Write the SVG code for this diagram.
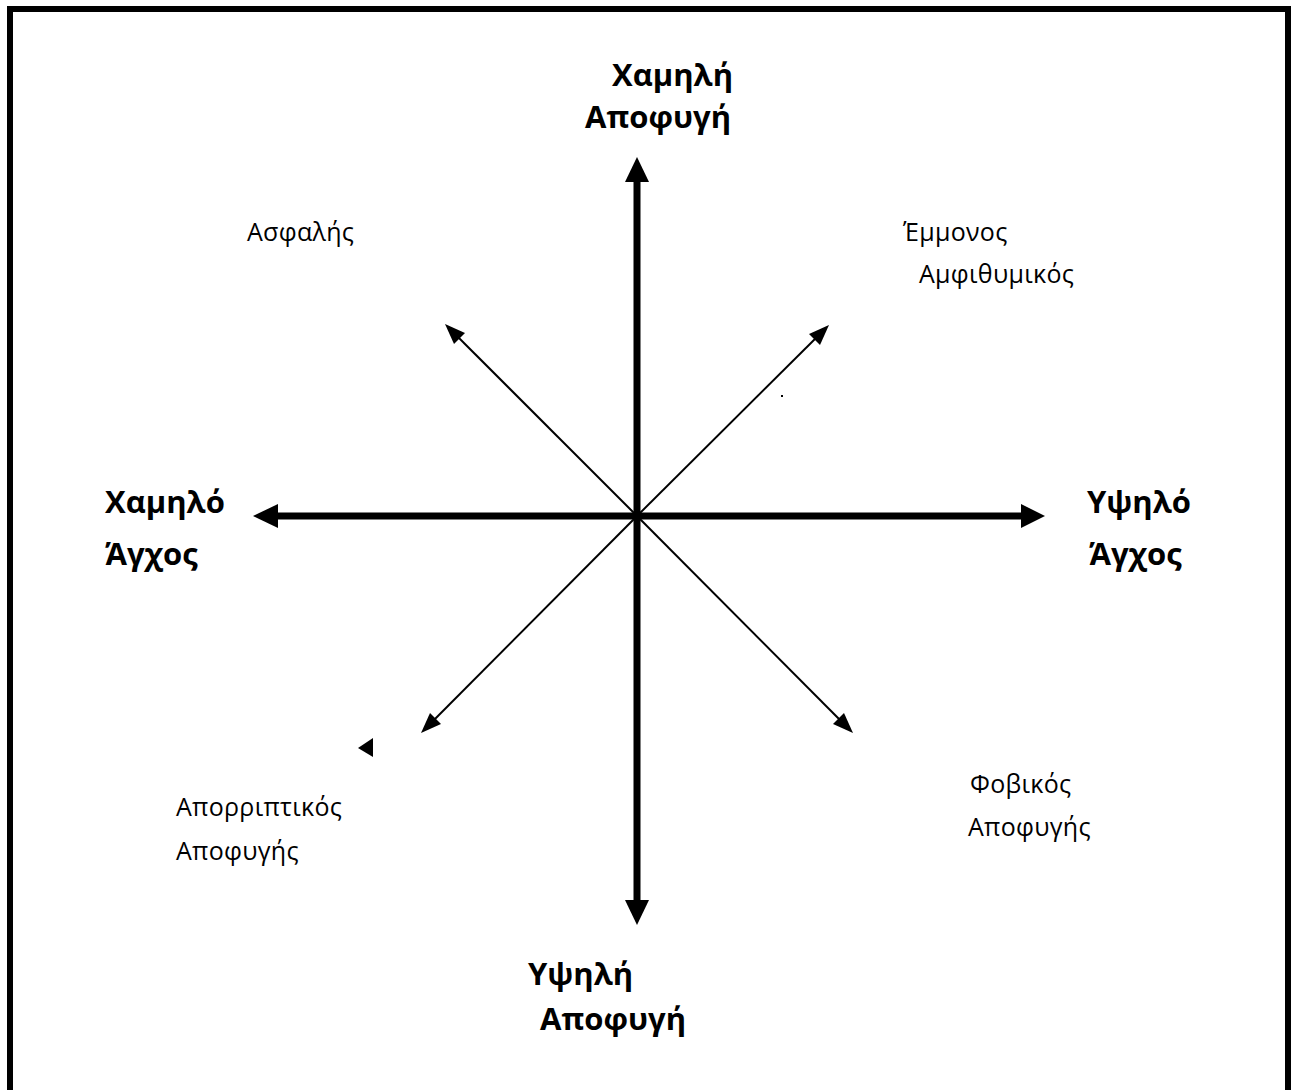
<svg xmlns="http://www.w3.org/2000/svg" width="1296" height="1090" viewBox="0 0 1296 1090">
<style>
.b{font-family:"Open Sans","Noto Sans","DejaVu Sans",sans-serif;font-weight:bold;font-size:31px;fill:#000}
.r{font-family:"Open Sans","Noto Sans","DejaVu Sans",sans-serif;font-size:25px;letter-spacing:0.3px;fill:#000}
.axis{stroke:#000;stroke-width:7;fill:none}
.diag{stroke:#000;stroke-width:2;fill:none}
</style>
<rect x="0" y="0" width="1296" height="1090" fill="#fff"/>
<path d="M10,1095 V9 H1288 V1095" fill="none" stroke="#000" stroke-width="6"/>
<g id="connectors">
<line class="axis" x1="637" y1="181" x2="637" y2="901"/>
<path d="M637,157 L649,182 L625,182 Z"/>
<path d="M637,925 L649,900 L625,900 Z"/>
<line class="axis" x1="277" y1="516" x2="1022" y2="516"/>
<path d="M253,516 L278,504 L278,528 Z"/>
<path d="M1045,516 L1021,504 L1021,528 Z"/>
<g>
<line class="diag" x1="637" y1="516" x2="454" y2="333"/>
<path d="M445,324 L465,333 L454,344 Z"/>
<line class="diag" x1="637" y1="516" x2="820" y2="334"/>
<path d="M829,325 L809,334 L820,345 Z"/>
<line class="diag" x1="637" y1="516" x2="844" y2="724"/>
<path d="M853,733 L844,713 L833,724 Z"/>
<line class="diag" x1="637" y1="516" x2="430" y2="724"/>
<path d="M421,733 L441,724 L430,713 Z"/>
<path d="M358,748 L373,738 L373,757 Z"/>
<rect x="781" y="395" width="2" height="2"/>
</g>
</g>
<g id="top-label"><text class="b" x="612" y="86">Χαμηλή</text><text class="b" x="585" y="128">Αποφυγή</text></g>
<g id="left-label"><text class="b" x="105" y="513">Χαμηλό</text><text class="b" x="105" y="565">Άγχος</text></g>
<g id="right-label"><text class="b" x="1087" y="513">Υψηλό</text><text class="b" x="1089" y="565">Άγχος</text></g>
<g id="bottom-label"><text class="b" x="528" y="985">Υψηλή</text><text class="b" x="540" y="1030">Αποφυγή</text></g>
<g id="secure"><text class="r" x="247" y="241">Ασφαλής</text></g>
<g id="ambivalent"><text class="r" x="903" y="241">Έμμονος</text><text class="r" x="919" y="283">Αμφιθυμικός</text></g>
<g id="dismissive"><text class="r" x="176" y="816">Απορριπτικός</text><text class="r" x="176" y="860">Αποφυγής</text></g>
<g id="fearful"><text class="r" x="970" y="793">Φοβικός</text><text class="r" x="968" y="836">Αποφυγής</text></g>
</svg>
